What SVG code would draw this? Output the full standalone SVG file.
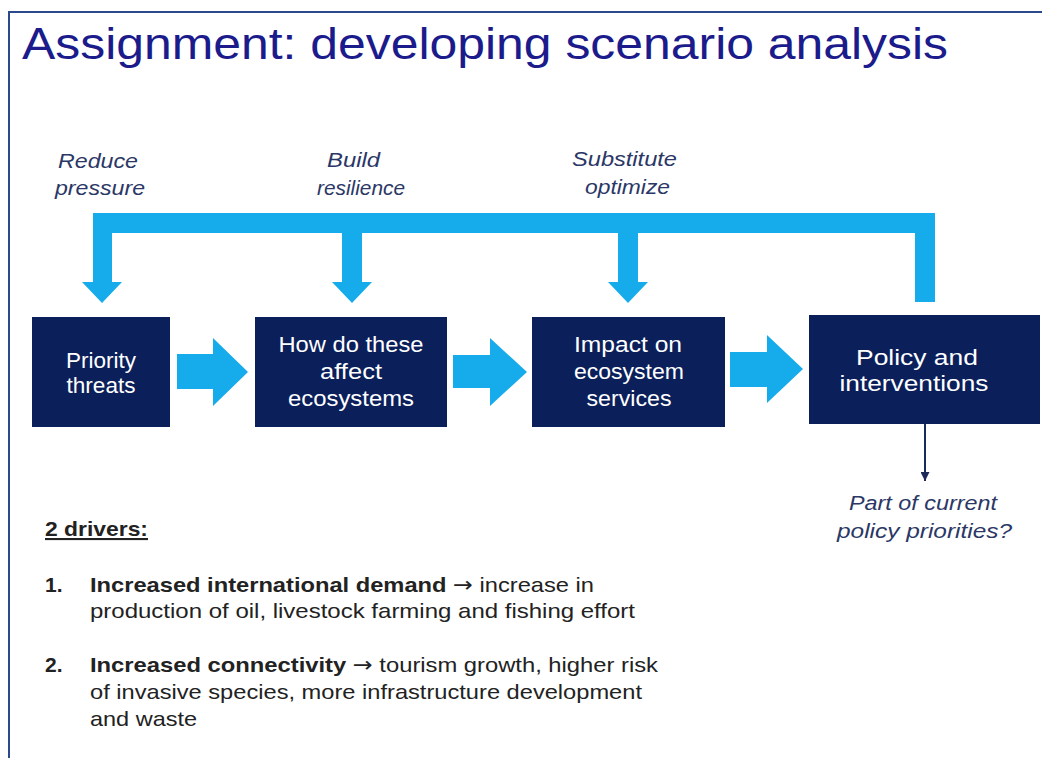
<svg xmlns="http://www.w3.org/2000/svg" width="1042" height="758" viewBox="0 0 1042 758">
<style>
.title{font-family:"Liberation Sans",Arial,sans-serif;font-size:44px;fill:#1b1b8c}
.lbl{font-family:"Liberation Sans",Arial,sans-serif;font-size:20px;font-style:italic;fill:#2b3766}
.box{fill:#0b1f5b}
.bt{font-family:"Liberation Sans",Arial,sans-serif;font-size:22px;fill:#ffffff;text-anchor:middle}
.body{font-family:"Liberation Sans",Arial,sans-serif;font-size:21px;fill:#222222}
.arr{font-family:"DejaVu Sans",sans-serif}
.blue{fill:#16aceb}
</style>
<defs>
<marker id="ah" viewBox="0 0 10 10" refX="10" refY="5" markerWidth="9" markerHeight="9" markerUnits="userSpaceOnUse" orient="auto">
<path d="M0,0 L10,5 L0,10 Z" fill="#1c2a5a"/>
</marker>
</defs>
<rect x="0" y="0" width="1042" height="758" fill="#ffffff"/>
<path d="M9,758 V12 H1042" fill="none" stroke="#2a4a8c" stroke-width="2"/>
<text class="title" x="22" y="59" textLength="926" lengthAdjust="spacingAndGlyphs">Assignment: developing scenario analysis</text>

<g id="labels">
<text class="lbl" x="58" y="168" textLength="80" lengthAdjust="spacingAndGlyphs">Reduce</text>
<text class="lbl" x="55" y="195" textLength="90" lengthAdjust="spacingAndGlyphs">pressure</text>
<text class="lbl" x="327" y="167" textLength="53" lengthAdjust="spacingAndGlyphs">Build</text>
<text class="lbl" x="317" y="195" textLength="88" lengthAdjust="spacingAndGlyphs">resilience</text>
<text class="lbl" x="572" y="166" textLength="105" lengthAdjust="spacingAndGlyphs">Substitute</text>
<text class="lbl" x="585" y="194" textLength="85" lengthAdjust="spacingAndGlyphs">optimize</text>
</g>

<g id="connectors">
<path class="blue" d="M93,213 H935 V302 H915 V233 H638 V282 H648 L628,303 L608,282 H618 V233 H362 V282 H372 L352,303 L332,282 H342 V233 H112 V282 H122 L102,303 L82,282 H93 Z"/>
<path class="blue" d="M177,354 H213 V338 L248,372 L213,406 V389 H177 Z"/>
<path class="blue" d="M453,355 H490 V338 L527,372 L490,406 V388 H453 Z"/>
<path class="blue" d="M730,352 H767 V335 L803,369 L767,403 V387 H730 Z"/>
<line x1="925" y1="424" x2="925" y2="481" stroke="#1c2a5a" stroke-width="2" marker-end="url(#ah)"/>
</g>

<g id="node-priority">
<rect class="box" x="32" y="317" width="138" height="110"/>
<text class="bt" x="101" y="368" textLength="70" lengthAdjust="spacingAndGlyphs">Priority</text>
<text class="bt" x="101" y="393" textLength="69" lengthAdjust="spacingAndGlyphs">threats</text>
</g>
<g id="node-affect">
<rect class="box" x="255" y="317" width="192" height="110"/>
<text class="bt" x="351" y="352" textLength="145" lengthAdjust="spacingAndGlyphs">How do these</text>
<text class="bt" x="351" y="379" textLength="62" lengthAdjust="spacingAndGlyphs">affect</text>
<text class="bt" x="351" y="406" textLength="126" lengthAdjust="spacingAndGlyphs">ecosystems</text>
</g>
<g id="node-impact">
<rect class="box" x="532" y="317" width="193" height="110"/>
<text class="bt" x="628" y="352" textLength="108" lengthAdjust="spacingAndGlyphs">Impact on</text>
<text class="bt" x="629" y="379" textLength="110" lengthAdjust="spacingAndGlyphs">ecosystem</text>
<text class="bt" x="629" y="406" textLength="85" lengthAdjust="spacingAndGlyphs">services</text>
</g>
<g id="node-policy">
<rect class="box" x="809" y="315" width="231" height="109"/>
<text class="bt" x="917" y="365" textLength="122" lengthAdjust="spacingAndGlyphs">Policy and</text>
<text class="bt" x="914" y="391" textLength="149" lengthAdjust="spacingAndGlyphs">interventions</text>
</g>

<g id="note-policy">
<text class="lbl" x="849" y="510" textLength="148" lengthAdjust="spacingAndGlyphs">Part of current</text>
<text class="lbl" x="837" y="538" textLength="175" lengthAdjust="spacingAndGlyphs">policy priorities?</text>
</g>

<g id="drivers">
<text class="body" x="45" y="536" font-weight="bold" text-decoration="underline" textLength="103" lengthAdjust="spacingAndGlyphs">2 drivers:</text>
<text class="body" x="45" y="592" font-weight="bold">1.</text>
<text class="body" x="90" y="592" textLength="504" lengthAdjust="spacingAndGlyphs"><tspan font-weight="bold">Increased international demand</tspan> <tspan class="arr">→</tspan> increase in</text>
<text class="body" x="90" y="618" textLength="545" lengthAdjust="spacingAndGlyphs">production of oil, livestock farming and fishing effort</text>
<text class="body" x="45" y="672" font-weight="bold">2.</text>
<text class="body" x="90" y="672" textLength="568" lengthAdjust="spacingAndGlyphs"><tspan font-weight="bold">Increased connectivity</tspan> <tspan class="arr">→</tspan> tourism growth, higher risk</text>
<text class="body" x="90" y="699" textLength="552" lengthAdjust="spacingAndGlyphs">of invasive species, more infrastructure development</text>
<text class="body" x="90" y="726" textLength="107" lengthAdjust="spacingAndGlyphs">and waste</text>
</g>
</svg>
